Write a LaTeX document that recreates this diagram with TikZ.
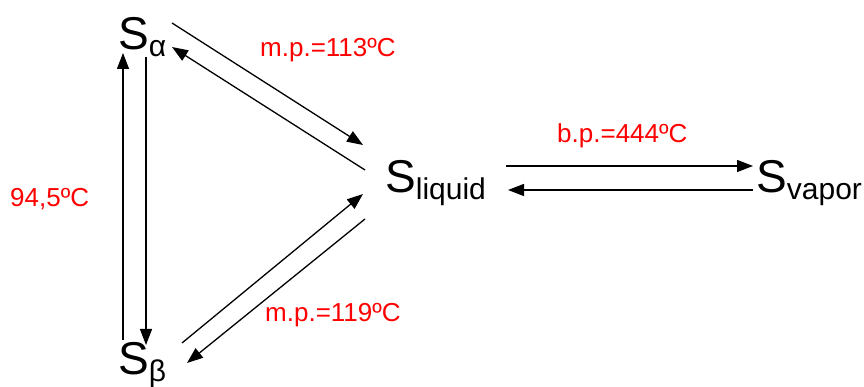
\documentclass[tikz,border=0pt]{standalone}
\usepackage{fontspec}
\setmainfont{Liberation Sans}
\usepackage{xcolor}
\usetikzlibrary{arrows.meta, positioning}

\newcommand{\phsub}[1]{\raisebox{-7pt}{\fontsize{30}{30}\selectfont #1}}

\begin{document}
\begin{tikzpicture}[
  x=1pt, y=1pt,
  phase/.style={inner sep=0pt, anchor=base west, font=\fontsize{46}{46}\selectfont},
  temp/.style={inner sep=0pt, anchor=base west, text=red, font=\fontsize{26}{26}\selectfont},
  conv/.style={-{Triangle[length=16pt, width=12pt]}, line width=1.3pt}
]
  \useasboundingbox (0,0) rectangle (864,387);

  % phases of sulfur
  \node[phase] (Sa) at (118,337) {S\phsub{α}};
  \node[phase] (Sb) at (118,12) {S\phsub{β}};
  \node[phase] (Sl) at (385,194) {S\phsub{liquid}};
  \node[phase] (Sv) at (756,194) {S\phsub{vapor}};

  % transition temperatures
  \node[temp] (T1) at (260,330) {m.p.=113ºC};
  \node[temp] (T2) at (557,244) {b.p.=444ºC};
  \node[temp] (T3) at (265,65) {m.p.=119ºC};
  \node[temp] (T4) at (10,180) {94,5ºC};

  % alpha <-> beta
  \draw[conv] ([shift={(5,35)}]Sb.base west) -- ([shift={(5,-3)}]Sa.base west);
  \draw[conv] ([shift={(28,-7)}]Sa.base west) -- ([shift={(28,30)}]Sb.base west);

  % alpha <-> liquid
  \draw[conv] ([shift={(54,27)}]Sa.base west) -- ([shift={(-22,48)}]Sl.base west);
  \draw[conv] ([shift={(-20,23)}]Sl.base west) -- ([shift={(54,3)}]Sa.base west);

  % beta <-> liquid
  \draw[conv] ([shift={(64,32)}]Sb.base west) -- ([shift={(-22,-1)}]Sl.base west);
  \draw[conv] ([shift={(-20,-26)}]Sl.base west) -- ([shift={(69,12)}]Sb.base west);

  % liquid <-> vapor
  \draw[conv] ([shift={(121,27)}]Sl.base west) -- ([shift={(-3,27)}]Sv.base west);
  \draw[conv] ([shift={(-3,3)}]Sv.base west) -- ([shift={(123,3)}]Sl.base west);
\end{tikzpicture}
\end{document}
